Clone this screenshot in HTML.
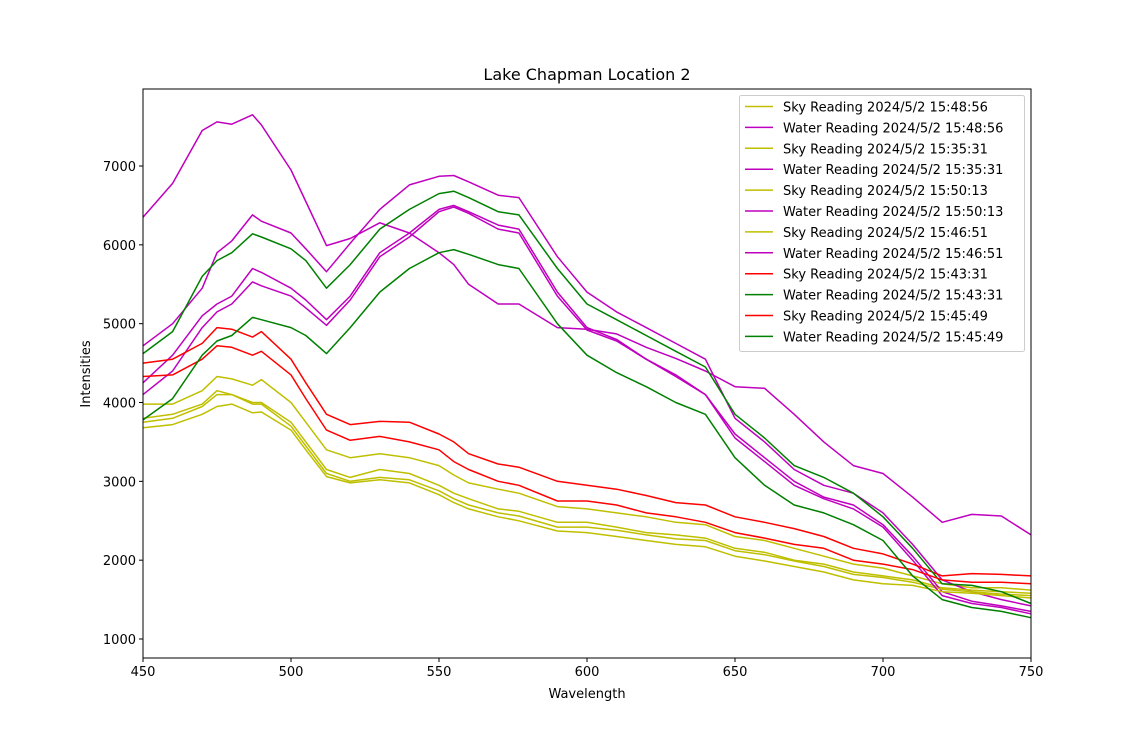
<!DOCTYPE html>
<html><head><meta charset="utf-8"><style>
body{margin:0;background:#fff}
svg text{font-family:"DejaVu Sans","Liberation Sans",sans-serif;fill:#000}
</style></head><body>
<svg id="chart" width="1145" height="739" xmlns="http://www.w3.org/2000/svg">
<rect width="1145" height="739" fill="#fff"/>
<text x="587" y="80" font-size="16" text-anchor="middle">Lake Chapman Location 2</text>
<text x="587" y="698" font-size="13" text-anchor="middle">Wavelength</text>
<text x="90" y="374" font-size="13" text-anchor="middle" transform="rotate(-90 90 374)">Intensities</text>
<g id="lines"></g><g id="axes"></g><g id="legend"></g>
</svg>
<script>
const wavelengths=[450,460,470,475,480,487,490,500,505,512,520,530,540,550,555,560,570,577,590,600,610,620,630,640,650,660,670,680,690,700,710,720,730,740,750];
const waterA=[6350,6780,7450,7560,7530,7650,7520,6950,6550,5990,6080,6280,6150,5900,5750,5500,5250,5250,4950,4930,4870,4700,4560,4400,4200,4180,3850,3500,3200,3100,2800,2480,2580,2560,2320];
const waterB=[4720,5000,5450,5900,6050,6380,6300,6150,5950,5660,6020,6450,6760,6870,6880,6800,6630,6600,5850,5400,5150,4950,4750,4550,3800,3500,3150,2950,2850,2600,2200,1750,1600,1500,1420];
const waterC=[4250,4600,5100,5250,5350,5700,5650,5450,5300,5050,5350,5900,6150,6450,6500,6420,6250,6200,5400,4950,4800,4550,4350,4100,3600,3300,3000,2800,2700,2450,2050,1600,1480,1420,1350];
const waterD=[4100,4400,4950,5150,5250,5530,5480,5350,5200,4980,5300,5850,6100,6420,6480,6400,6200,6150,5350,4920,4780,4550,4330,4100,3550,3250,2950,2780,2650,2420,2000,1550,1450,1400,1320];
const waterG1=[4620,4900,5600,5800,5900,6140,6100,5950,5800,5450,5750,6200,6450,6650,6680,6600,6420,6380,5700,5250,5050,4850,4650,4450,3850,3550,3200,3050,2850,2550,2150,1700,1680,1600,1450];
const waterG2=[3780,4050,4600,4780,4850,5080,5050,4950,4850,4620,4950,5400,5700,5900,5940,5880,5750,5700,5000,4600,4380,4200,4000,3850,3300,2950,2700,2600,2450,2250,1800,1500,1400,1350,1270];
const skyR1=[4500,4550,4750,4950,4930,4830,4900,4550,4250,3850,3720,3760,3750,3600,3500,3350,3220,3180,3000,2950,2900,2820,2730,2700,2550,2480,2400,2300,2150,2080,1950,1800,1830,1820,1800];
const skyR2=[4330,4350,4550,4720,4700,4600,4650,4350,4050,3650,3520,3570,3500,3400,3250,3150,3000,2950,2750,2750,2700,2600,2550,2480,2350,2280,2200,2150,2000,1950,1880,1750,1720,1720,1700];
const skyY1=[3980,3980,4150,4330,4300,4220,4290,4000,3750,3400,3300,3350,3300,3200,3080,2980,2900,2850,2680,2650,2600,2550,2480,2450,2300,2250,2150,2050,1950,1900,1800,1700,1650,1650,1620];
const skyY2=[3800,3850,3980,4150,4100,4000,4000,3750,3500,3150,3050,3150,3100,2950,2850,2780,2650,2620,2480,2480,2420,2350,2320,2280,2150,2100,2000,1950,1850,1800,1750,1650,1620,1600,1580];
const skyY3=[3750,3800,3950,4100,4100,3980,3980,3700,3450,3100,3000,3050,3020,2880,2780,2700,2600,2560,2420,2420,2380,2320,2270,2250,2120,2070,1990,1920,1820,1780,1720,1630,1600,1570,1550];
const skyY4=[3680,3720,3850,3950,3980,3870,3880,3650,3400,3060,2980,3020,2980,2830,2730,2650,2550,2500,2370,2350,2300,2250,2200,2170,2050,1990,1920,1850,1750,1700,1680,1600,1580,1550,1520];
const legendLabels=["Sky Reading 2024/5/2 15:48:56","Water Reading 2024/5/2 15:48:56","Sky Reading 2024/5/2 15:35:31","Water Reading 2024/5/2 15:35:31","Sky Reading 2024/5/2 15:50:13","Water Reading 2024/5/2 15:50:13","Sky Reading 2024/5/2 15:46:51","Water Reading 2024/5/2 15:46:51","Sky Reading 2024/5/2 15:43:31","Water Reading 2024/5/2 15:43:31","Sky Reading 2024/5/2 15:45:49","Water Reading 2024/5/2 15:45:49"];
const xTicks=[450,500,550,600,650,700,750];
const yTicks=[1000,2000,3000,4000,5000,6000,7000];

const Y='#bfbf00',M='#bf00bf',R='#ff0000',G='#008000';
const series=[[skyY1,Y],[waterB,M],[skyY2,Y],[waterC,M],[skyY3,Y],[waterD,M],[skyY4,Y],[waterA,M],[skyR1,R],[waterG1,G],[skyR2,R],[waterG2,G]];
const L=143,Rr=1031,T=89,B=658;
const X=w=>L+(w-450)/300*(Rr-L);
const YV=v=>639-(v-1000)*0.07883;
const NS='http://www.w3.org/2000/svg';
function mk(tag,attrs,parent){const e=document.createElementNS(NS,tag);for(const k in attrs)e.setAttribute(k,attrs[k]);parent.appendChild(e);return e;}
const lines=document.getElementById('lines'),axes=document.getElementById('axes'),leg=document.getElementById('legend');
series.forEach((s,i)=>{
  const d=s[0].map((v,j)=>(j?'L':'M')+X(wavelengths[j]).toFixed(1)+' '+YV(v).toFixed(1)).join(' ');
  const p=mk('path',{d:d,fill:'none',stroke:s[1],'stroke-width':1.5,'stroke-linejoin':'round'},lines);
  
  
});
const frame=mk('rect',{x:L,y:T,width:Rr-L,height:B-T,fill:'none',stroke:'#000','stroke-width':1},axes);


xTicks.forEach(t=>{
  const x=X(t);
  mk('line',{x1:x,x2:x,y1:B,y2:B+4,stroke:'#000'},axes);
  const tx=mk('text',{x:x,y:B+18,'font-size':13,'text-anchor':'middle'},axes);
  tx.textContent=t;
  
  
});
yTicks.forEach(t=>{
  const y=YV(t);
  mk('line',{x1:L-4,x2:L,y1:y,y2:y,stroke:'#000'},axes);
  const tx=mk('text',{x:L-7,y:y+5,'font-size':13,'text-anchor':'end'},axes);
  tx.textContent=t;
  
  
});
const lb=mk('rect',{x:739.5,y:95.5,width:285,height:256,rx:2,fill:'#fff','fill-opacity':0.8,stroke:'#ccc'},leg);


legendLabels.forEach((lab,i)=>{
  const y=106.5+i*20.9;
  const ln=mk('line',{x1:745,x2:773,y1:y,y2:y,stroke:series[i][1],'stroke-width':1.5},leg);
  
  
  const tx=mk('text',{x:783,y:y+5,'font-size':13},leg);
  tx.textContent=lab;
  
  
});
</script>
</body></html>
